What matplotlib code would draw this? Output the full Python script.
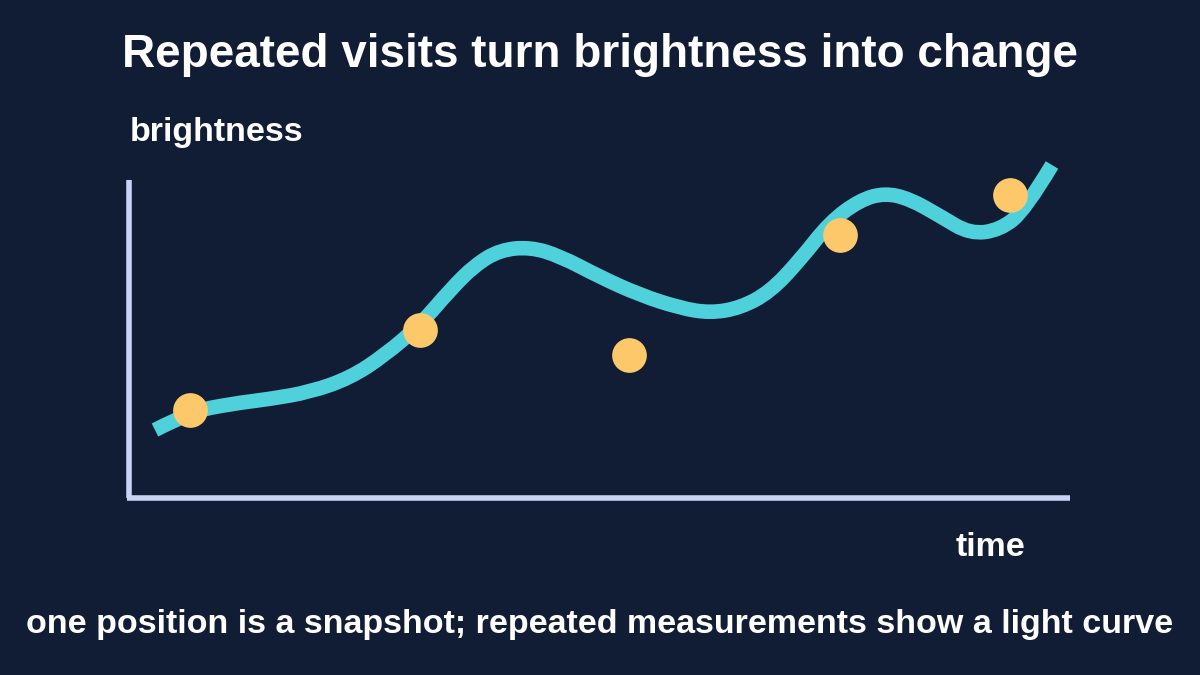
import matplotlib
matplotlib.use("Agg")
import matplotlib.pyplot as plt
from matplotlib.path import Path
from matplotlib.patches import PathPatch

# curve (pixel-space units, y downward)
curve_x = [155,190,230,270,310,350,385,420,450,475,500,530,560,600,640,680,710,740,770,800,830,860,885,910,940,970,1000,1025,1052]
curve_y = [430,412,404,399,392,378,355,325,290,265,250,247,256,277,295,308,313,308,292,260,222,200,193,199,216,234,230,210,165]
dot_x = [190,420,629,840,1010]
dot_y = [410,330,355,235,195]

bg = "#111c35"
fig = plt.figure(figsize=(12, 6.75), dpi=100, facecolor=bg)
ax = fig.add_axes([0, 0, 1, 1])
ax.set_facecolor(bg)
ax.set_xlim(0, 1200)
ax.set_ylim(675, 0)
ax.axis("off")

axc = "#c9d3f5"
ax.plot([129, 129], [180, 498], color=axc, lw=4, solid_capstyle="butt")
ax.plot([127, 1070], [498, 498], color=axc, lw=4, solid_capstyle="butt")

# smooth path: quadratic Bezier segments using read points as control points
pts = list(zip(curve_x, curve_y))
verts = [pts[0]]
codes = [Path.MOVETO]
for i in range(1, len(pts) - 1):
    mid = ((pts[i][0] + pts[i+1][0]) / 2, (pts[i][1] + pts[i+1][1]) / 2)
    end = mid if i < len(pts) - 2 else pts[-1]
    verts += [pts[i], end]
    codes += [Path.CURVE3, Path.CURVE3]
ax.add_patch(PathPatch(Path(verts, codes), fill=False, edgecolor="#4fd1dc", lw=10.5,
                       capstyle="butt", joinstyle="round"))
ax.plot(dot_x, dot_y, "o", color="#fdc86a", ms=25, mec="none", zorder=5)

fam = ["Liberation Sans", "DejaVu Sans"]
ax.text(600, 55, "Repeated visits turn brightness into change", color="white", fontsize=33,
        fontweight="bold", ha="center", va="center", family=fam)
ax.text(130, 133, "brightness", color="white", fontsize=24.5, fontweight="bold", ha="left", va="center", family=fam)
ax.text(990, 548, "time", color="white", fontsize=24.5, fontweight="bold", ha="center", va="center", family=fam)
ax.text(600, 625, "one position is a snapshot; repeated measurements show a light curve", color="white",
        fontsize=24.5, fontweight="bold", ha="center", va="center", family=fam)

fig.savefig("out.png", dpi=100, facecolor=bg)
